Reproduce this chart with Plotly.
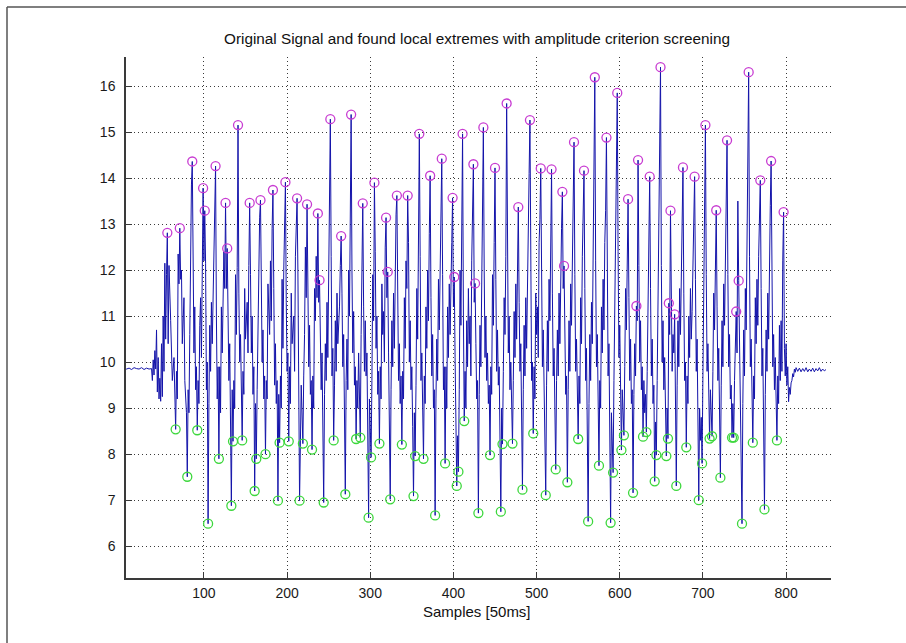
import plotly.graph_objects as go

# Local maxima kept after the amplitude screening (sample index, value)
peak_x = [56, 71, 86, 99, 101, 114, 126, 128, 141, 155, 168, 183, 198, 212, 224,
          237, 239, 252, 265, 277, 291, 305, 319, 321, 332, 345, 359, 372, 386, 399,
          401, 411, 424, 426, 436, 450, 464, 478, 492, 505, 518, 531, 533, 545, 557,
          570, 584, 597, 610, 620, 622, 636, 649, 659, 661, 666, 676, 690, 703, 716,
          729, 740, 743, 755, 769, 782, 797]
peak_y = [12.81, 12.91, 14.36, 13.78, 13.29, 14.26, 13.46, 12.47, 15.15, 13.46,
          13.52, 13.74, 13.91, 13.56, 13.43, 13.23, 11.78, 15.28, 12.74, 15.38,
          13.45, 13.90, 13.14, 11.96, 13.62, 13.62, 14.96, 14.05, 14.42, 13.57,
          11.85, 14.96, 14.30, 11.71, 15.10, 14.22, 15.62, 13.37, 15.26, 14.21,
          14.19, 13.70, 12.09, 14.78, 14.16, 16.19, 14.88, 15.85, 13.54, 11.22,
          14.39, 14.03, 16.41, 11.28, 13.29, 11.04, 14.23, 14.03, 15.15, 13.30,
          14.82, 11.10, 11.77, 16.30, 13.95, 14.37, 13.26]

# Local minima kept after the amplitude screening
trough_x = [66, 80, 92, 105, 118, 133, 135, 146, 161, 163, 174, 189, 191, 202, 215,
            219, 230, 244, 256, 270, 283, 288, 298, 301, 311, 324, 338, 352, 354, 364,
            378, 390, 404, 406, 413, 430, 444, 457, 459, 471, 483, 496, 511, 523, 537,
            550, 562, 575, 589, 592, 602, 605, 616, 628, 632, 642, 644, 656, 658, 668,
            680, 695, 699, 708, 711, 721, 735, 737, 747, 760, 774, 789]
trough_y = [8.54, 7.51, 8.52, 6.49, 7.90, 6.88, 8.28, 8.30, 7.20, 7.90,
            8.00, 6.99, 8.25, 8.28, 6.99, 8.23, 8.10, 6.95, 8.30, 7.13,
            8.33, 8.36, 6.62, 7.93, 8.23, 7.02, 8.21, 7.09, 7.96, 7.90,
            6.67, 7.80, 7.31, 7.62, 8.72, 6.72, 7.98, 6.75, 8.22, 8.23,
            7.23, 8.45, 7.11, 7.67, 7.39, 8.33, 6.54, 7.75, 6.51, 7.60,
            8.09, 8.41, 7.16, 8.38, 8.48, 7.41, 7.98, 7.96, 8.34, 7.31,
            8.15, 7.00, 7.80, 8.34, 8.39, 7.49, 8.36, 8.36, 6.49, 8.25,
            6.80, 8.30]

# Remaining signal samples (not marked as extremes)
other_samples = [
    (1, 9.86), (4, 9.88), (7, 9.85), (10, 9.87), (13, 9.84), (16, 9.88), (19, 9.86),
    (22, 9.85), (25, 9.88), (28, 9.84), (31, 9.87), (34, 9.85), (37, 9.86), (38, 9.60),
    (39, 10.05), (40, 9.72), (41, 10.25), (42, 9.85), (43, 10.70), (44, 9.35), (45, 10.10),
    (46, 9.20), (47, 9.65), (48, 9.15), (49, 10.40), (50, 9.25), (51, 11.00), (52, 9.80),
    (53, 12.15), (54, 10.50), (55, 11.90),
    (57, 10.4), (58, 12.1), (60, 10.9), (62, 9.6), (64, 10.1), (65, 9.1),
    (67, 9.8), (68, 9.2), (69, 12.35), (70, 11.7),
    (72, 11.8), (73, 12.0), (74, 10.4), (76, 11.4), (77, 9.6), (79, 8.9),
    (81, 9.4), (82, 8.9), (83, 10.6), (84, 12.4), (85, 13.85),
    (87, 11.5), (88, 10.2), (89, 11.2), (90, 9.4), (91, 9.9),
    (93, 9.6), (94, 9.1), (95, 10.8), (96, 11.4), (97, 10.1), (98, 12.3),
    (100, 12.2),
    (102, 12.15), (103, 9.4), (104, 10.0),
    (106, 9.1), (107, 10.8), (108, 9.8), (109, 11.3), (110, 10.4), (112, 12.4), (113, 13.5),
    (115, 11.0), (116, 9.2), (117, 9.9),
    (119, 9.9), (120, 8.9), (121, 11.2), (122, 10.2), (124, 12.4), (125, 11.6),
    (127, 11.6),
    (129, 11.0), (130, 9.6), (131, 10.4), (132, 9.0),
    (134, 9.4),
    (136, 9.6), (137, 9.0), (138, 11.9), (139, 10.6), (140, 12.05),
    (142, 11.5), (143, 10.0), (144, 10.6), (145, 9.2),
    (147, 9.8), (148, 9.3), (149, 11.6), (150, 10.5), (152, 11.3), (153, 10.2), (154, 12.1),
    (156, 11.9), (157, 10.2), (158, 11.0), (159, 9.3), (160, 9.9),
    (162, 9.1),
    (164, 9.4), (165, 10.9), (166, 11.5), (167, 13.15),
    (169, 11.4), (170, 10.0), (171, 10.7), (172, 9.2), (173, 9.7),
    (175, 9.6), (176, 9.2), (177, 11.7), (179, 10.6), (180, 12.2), (181, 10.9), (182, 12.9),
    (184, 11.6), (185, 9.5), (186, 10.4), (187, 9.1), (188, 9.6),
    (190, 9.3),
    (192, 9.7), (193, 9.0), (194, 11.8), (195, 10.3), (196, 12.0), (197, 13.65),
    (199, 11.3), (200, 9.8), (201, 10.2),
    (203, 9.9), (204, 9.1), (205, 11.5), (206, 10.4), (208, 11.0), (209, 9.8), (210, 12.3), (211, 13.0),
    (213, 12.0), (214, 9.6),
    (217, 9.5),
    (220, 9.7), (221, 10.6), (222, 12.5), (223, 11.4),
    (225, 11.2), (226, 9.9), (227, 10.8), (228, 9.3), (229, 9.6),
    (231, 9.7), (232, 9.0), (233, 11.6), (234, 10.9), (235, 12.3), (236, 11.4),
    (238, 11.3),
    (240, 10.9), (241, 9.4), (242, 10.2), (243, 8.9),
    (245, 9.3), (246, 10.4), (247, 9.6), (248, 11.3), (249, 10.1), (250, 11.7), (251, 13.8),
    (253, 12.3), (254, 9.7), (255, 10.3),
    (257, 9.5), (258, 10.9), (259, 9.8), (260, 11.5), (261, 10.4), (263, 11.2), (264, 12.1),
    (266, 11.5), (267, 9.9), (268, 10.6), (269, 9.0),
    (271, 9.6), (272, 10.5), (273, 9.4), (274, 12.0), (275, 11.0), (276, 13.9),
    (278, 12.0), (279, 10.2), (280, 11.1), (281, 9.5), (282, 9.9),
    (284, 9.6), (285, 9.0), (286, 10.2), (287, 9.1),
    (289, 10.6), (290, 12.3),
    (292, 11.2), (293, 9.8), (294, 10.9), (295, 9.7), (296, 10.2), (297, 8.4),
    (299, 9.2), (300, 8.6),
    (302, 9.6), (303, 11.9), (304, 10.9),
    (306, 12.4), (307, 10.3), (308, 11.0), (309, 9.3), (310, 9.8),
    (312, 9.9), (313, 9.2), (314, 11.7), (315, 10.6), (316, 11.1), (317, 10.0), (318, 12.5),
    (320, 11.4),
    (322, 10.2), (323, 8.8),
    (325, 9.4), (326, 10.9), (327, 9.9), (328, 11.5), (329, 10.3), (330, 12.0), (331, 13.2),
    (333, 11.1), (334, 9.6), (335, 10.4), (336, 9.1), (337, 9.7),
    (339, 9.8), (340, 9.2), (341, 11.4), (342, 10.3), (343, 12.2), (344, 11.6),
    (346, 12.6), (347, 10.0), (348, 10.9), (349, 9.4), (350, 9.9), (351, 8.6),
    (353, 8.9),
    (355, 9.5), (356, 11.6), (357, 10.5), (358, 12.5),
    (360, 12.3), (361, 9.6), (362, 10.2), (363, 8.8),
    (365, 9.7), (366, 9.1), (367, 11.2), (368, 10.3), (369, 12.0), (370, 10.9), (371, 12.8),
    (373, 11.4), (374, 9.7), (375, 10.6), (376, 9.0), (377, 9.4),
    (379, 9.2), (380, 10.5), (381, 9.6), (382, 11.8), (383, 10.7), (385, 13.3),
    (387, 11.9), (388, 9.4), (389, 9.9),
    (391, 9.9), (392, 9.0), (393, 11.2), (394, 10.1), (395, 11.7), (396, 10.6), (398, 12.6),
    (400, 11.2),
    (402, 10.1), (403, 8.6),
    (405, 8.4),
    (407, 9.4), (408, 12.0), (409, 10.8), (410, 14.35),
    (412, 11.0),
    (414, 9.8), (415, 9.0), (416, 10.9), (417, 9.9), (418, 11.6), (419, 10.4), (420, 11.0),
    (421, 9.7), (422, 12.2), (423, 13.0),
    (425, 11.3),
    (427, 10.4), (428, 9.2), (429, 9.6),
    (431, 9.3), (432, 10.8), (433, 9.9), (434, 12.3), (435, 13.2),
    (437, 12.0), (438, 10.1), (439, 11.0), (440, 9.6), (441, 10.2), (442, 9.1), (443, 9.5),
    (445, 9.9), (446, 9.3), (447, 11.9), (448, 10.8), (449, 12.6),
    (451, 11.8), (452, 9.8), (453, 10.7), (454, 9.5), (455, 9.9), (456, 8.2),
    (458, 9.0),
    (460, 9.8), (461, 11.4), (462, 10.6), (463, 12.3),
    (465, 12.8), (466, 10.2), (467, 11.0), (468, 9.4), (469, 10.0), (470, 9.0),
    (472, 9.6), (473, 11.1), (474, 10.1), (475, 11.7), (476, 10.5), (477, 12.4),
    (479, 11.3), (480, 9.8), (481, 10.4), (482, 8.9),
    (484, 9.4), (485, 10.8), (486, 9.7), (487, 11.4), (488, 10.3), (489, 11.9), (490, 12.8), (491, 14.1),
    (493, 11.8), (494, 9.6), (495, 10.0),
    (497, 9.9), (498, 9.2), (499, 11.5), (500, 10.6), (501, 11.2), (502, 10.1), (503, 12.6), (504, 13.1),
    (506, 11.7), (507, 9.9), (508, 10.7), (509, 9.3), (510, 8.6),
    (512, 9.5), (513, 10.9), (514, 9.8), (515, 11.8), (516, 10.9), (517, 12.9),
    (519, 11.5), (520, 9.7), (521, 10.3), (522, 8.9),
    (524, 9.6), (525, 10.7), (526, 9.7), (527, 11.5), (528, 10.4), (529, 12.2), (530, 12.9),
    (532, 11.6),
    (534, 10.5), (535, 9.3), (536, 9.7),
    (538, 9.4), (539, 10.9), (540, 9.8), (541, 11.7), (542, 10.8), (543, 12.5), (544, 13.4),
    (546, 11.9), (547, 9.8), (548, 10.5), (549, 9.2),
    (551, 9.7), (552, 9.1), (553, 11.4), (554, 10.4), (555, 12.3), (556, 13.2),
    (558, 11.6), (559, 9.6), (560, 10.3), (561, 8.7),
    (563, 9.1), (564, 10.6), (565, 9.6), (566, 11.3), (567, 10.4), (568, 12.5), (569, 14.0),
    (571, 12.2), (572, 9.9), (573, 10.6), (574, 9.0),
    (576, 9.6), (577, 9.0), (578, 11.2), (579, 10.2), (580, 11.8), (581, 10.7), (582, 12.6), (583, 13.3),
    (585, 11.7), (586, 9.7), (587, 10.4), (588, 8.8),
    (590, 8.9), (591, 8.2),
    (593, 9.6), (594, 11.4), (595, 12.9), (596, 14.3),
    (598, 12.4), (599, 10.1), (600, 10.8), (601, 9.3),
    (603, 9.4), (604, 8.9),
    (606, 9.9), (607, 11.6), (608, 10.7), (609, 12.3),
    (611, 11.4), (612, 9.6), (613, 10.5), (614, 9.1), (615, 9.4),
    (617, 9.3), (618, 10.4), (619, 9.7),
    (621, 10.9),
    (623, 12.1), (624, 10.0), (625, 10.9), (626, 9.4), (627, 9.9),
    (629, 9.6), (630, 8.9), (631, 9.3),
    (633, 9.8), (634, 11.8), (635, 12.6),
    (637, 11.6), (638, 9.7), (639, 10.5), (640, 9.1), (641, 9.5),
    (643, 8.7),
    (645, 9.6), (646, 11.5), (647, 12.3), (648, 13.9),
    (650, 12.1), (651, 10.0), (652, 10.9), (653, 9.4), (654, 10.1), (655, 8.9),
    (657, 9.0),
    (660, 10.6),
    (662, 10.4), (663, 9.8), (664, 10.6), (665, 10.2),
    (667, 9.2),
    (669, 9.5), (670, 10.9), (671, 9.9), (672, 11.6), (673, 10.6), (674, 12.3), (675, 13.1),
    (677, 11.5), (678, 9.6), (679, 10.0),
    (681, 9.7), (682, 9.1), (683, 11.0), (684, 10.1), (685, 11.6), (686, 10.5), (687, 11.1),
    (688, 12.4), (689, 13.0),
    (691, 11.8), (692, 9.8), (693, 10.5), (694, 8.8),
    (696, 9.0), (697, 8.3), (698, 8.8),
    (700, 9.7), (701, 11.9), (702, 13.3),
    (704, 11.9), (705, 9.8), (706, 10.4), (707, 9.1),
    (709, 9.4), (710, 8.9),
    (712, 9.8), (713, 11.5), (714, 10.7), (715, 12.4),
    (717, 11.2), (718, 9.6), (719, 10.3), (720, 8.9),
    (722, 9.5), (723, 10.9), (724, 9.9), (725, 11.7), (726, 10.8), (727, 12.5), (728, 13.6),
    (730, 11.9), (731, 9.9), (732, 10.6), (733, 9.2), (734, 9.5),
    (736, 9.1),
    (738, 9.6), (739, 10.4),
    (741, 10.2), (742, 13.5),
    (744, 10.3), (745, 9.3), (746, 8.6),
    (748, 9.1), (749, 10.7), (750, 9.7), (751, 11.6), (752, 10.7), (753, 12.6), (754, 14.2),
    (756, 12.3), (757, 9.9), (758, 10.5), (759, 9.1),
    (761, 9.7), (762, 9.2), (763, 11.4), (764, 10.4), (765, 11.8), (766, 10.8), (767, 12.3), (768, 13.2),
    (770, 11.6), (771, 9.7), (772, 10.3), (773, 8.8),
    (775, 9.3), (776, 10.7), (777, 9.8), (778, 11.5), (779, 10.5), (780, 12.4), (781, 13.4),
    (783, 11.7), (784, 9.9), (785, 10.6), (786, 9.4), (787, 10.1), (788, 9.2),
    (790, 9.7), (791, 9.1), (792, 10.8), (793, 9.6), (794, 10.9), (795, 9.8), (796, 12.2),
    (798, 10.3), (799, 9.7), (800, 10.4), (801, 9.5), (802, 9.9), (803, 9.14), (804, 9.45),
    (805, 9.30), (806, 9.55), (807, 9.60), (808, 9.75), (809, 9.68), (810, 9.85), (811, 9.78),
    (812, 9.88), (814, 9.80), (816, 9.87), (818, 9.79), (820, 9.86), (822, 9.80), (824, 9.88),
    (826, 9.79), (828, 9.85), (830, 9.80), (832, 9.87), (834, 9.79), (836, 9.86), (838, 9.81),
    (840, 9.88), (842, 9.80), (844, 9.85), (846, 9.81), (848, 9.84),
]

x_ticks = [100, 200, 300, 400, 500, 600, 700, 800]
y_ticks = [6, 7, 8, 9, 10, 11, 12, 13, 14, 15, 16]

# Full signal: every sample in index order
signal = sorted(list(zip(peak_x, peak_y)) + list(zip(trough_x, trough_y)) + other_samples)
sig_x = [p[0] for p in signal]
sig_y = [p[1] for p in signal]

fig = go.Figure()
fig.add_trace(go.Scatter(x=sig_x, y=sig_y, mode="lines",
                         line=dict(color="rgb(20,20,170)", width=1), hoverinfo="skip"))
fig.add_trace(go.Scatter(x=peak_x, y=peak_y, mode="markers",
                         marker=dict(symbol="circle-open", size=9, color="rgb(200,60,210)",
                                     line=dict(width=1.3, color="rgb(200,60,210)"))))
fig.add_trace(go.Scatter(x=trough_x, y=trough_y, mode="markers",
                         marker=dict(symbol="circle-open", size=9, color="rgb(60,215,60)",
                                     line=dict(width=1.3, color="rgb(60,215,60)"))))

W, H = 906, 643
L, R, T, B = 126, 75, 57, 65
pw, ph = W - L - R, H - T - B

def px(xp):
    return (xp - L) / pw

def py(yp):
    return (H - B - yp) / ph

FONT = "Liberation Sans, Arial, sans-serif"
axis_font = dict(family=FONT, size=14, color="#1a1a1a")
common = dict(showgrid=True, gridcolor="#3a3a3a", gridwidth=1, griddash="1px,3px",
              zeroline=False, showline=True, linecolor="#3a3a3a", linewidth=1.5,
              ticks="inside", ticklen=6, tickwidth=1, tickcolor="#3a3a3a",
              tickfont=axis_font, mirror=False)

fig.update_layout(
    width=W, height=H,
    margin=dict(l=L, r=R, t=T, b=B),
    paper_bgcolor="white", plot_bgcolor="white",
    showlegend=False,
    xaxis=dict(range=[6.3, 854], tickvals=x_ticks, ticklabelstandoff=1, **common),
    yaxis=dict(range=[5.31, 16.63], tickvals=y_ticks, ticklabelstandoff=6, **common),
    title=dict(text="Original Signal and found local extremes with amplitude criterion screening",
               font=dict(family=FONT, size=15.3, color="#111"),
               x=px(477), xref="paper", xanchor="center",
               y=1 - 39 / H, yref="container", yanchor="middle"),
    annotations=[dict(text="Samples [50ms]", xref="paper", yref="paper",
                      x=px(477), y=py(611), xanchor="center", yanchor="middle",
                      showarrow=False,
                      font=dict(family=FONT, size=15, color="#111"))],
    shapes=[
        dict(type="line", xref="paper", yref="paper", x0=px(7), x1=px(906), y0=py(7), y1=py(7),
             line=dict(color="#555", width=1.5)),
        dict(type="line", xref="paper", yref="paper", x0=px(7), x1=px(7), y0=py(7), y1=py(643),
             line=dict(color="#555", width=1.5)),
    ],
)

fig.write_html("out.html")
